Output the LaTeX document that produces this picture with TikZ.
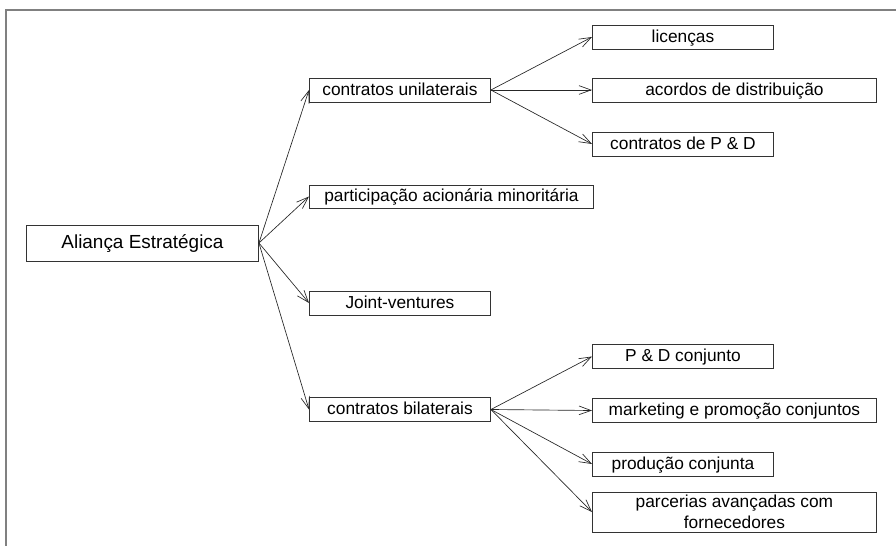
\documentclass[tikz,border=0pt]{standalone}
\usepackage{fontspec}
\setmainfont{Liberation Sans}
\usetikzlibrary{arrows.meta}

\begin{document}
\begin{tikzpicture}[x=0.75pt, y=-0.75pt,
  every node/.style = {shape=rectangle, draw=black!80, line width=0.7pt,
    inner sep=1pt, anchor=west, font=\fontsize{13}{15}\selectfont},
  small/.style = {minimum width=135.75pt, minimum height=18pt,
    text height=10pt, text depth=2.5pt},
  wide/.style = {small, minimum width=213pt},
  link/.style = {-{Straight Barb[length=9pt,width=6.5pt]}, line width=0.5pt, black!85}]
  \useasboundingbox (0,0) rectangle (896,546);
  \draw[gray, line width=1.1pt] (6,546) -- (6,10) -- (896,10);

  \node[minimum width=174pt, minimum height=27pt, text height=10.8pt, text depth=2.7pt,
    font=\fontsize{14.2}{16}\selectfont] (alianca) at (26,243) {Aliança Estratégica};

  \node[small] (unilat) at (309,90) {contratos unilaterais};
  \node[wide, minimum height=17.25pt] (particip) at (309,196.5) {participação acionária minoritária};
  \node[small] (joint) at (309,303) {Joint-ventures};
  \node[small] (bilat) at (309,409.5) {contratos bilaterais};

  \node[small] (licencas) at (592,37) {licenças};
  \node[wide] (acordos) at (592,90) {acordos de distribuição};
  \node[small] (contrPD) at (592,144) {contratos de P \& D};

  \node[small] (PDconj) at (592,356.5) {P \& D conjunto};
  \node[wide] (marketing) at (592,410.5) {marketing e promoção conjuntos};
  \node[small] (producao) at (592,464) {produção conjunta};
  \node[minimum width=213pt, minimum height=30pt, align=center,
    font=\fontsize{13}{15.5}\selectfont] (parcerias) at (592,512)
    {parcerias avançadas com\\fornecedores};

  \foreach \t in {unilat, particip, joint, bilat}
    \draw[link] (alianca.east) -- (\t.west);
  \foreach \t in {licencas, acordos, contrPD}
    \draw[link] (unilat.east) -- (\t.west);
  \foreach \t in {PDconj, marketing, producao, parcerias}
    \draw[link] (bilat.east) -- (\t.west);
\end{tikzpicture}
\end{document}
